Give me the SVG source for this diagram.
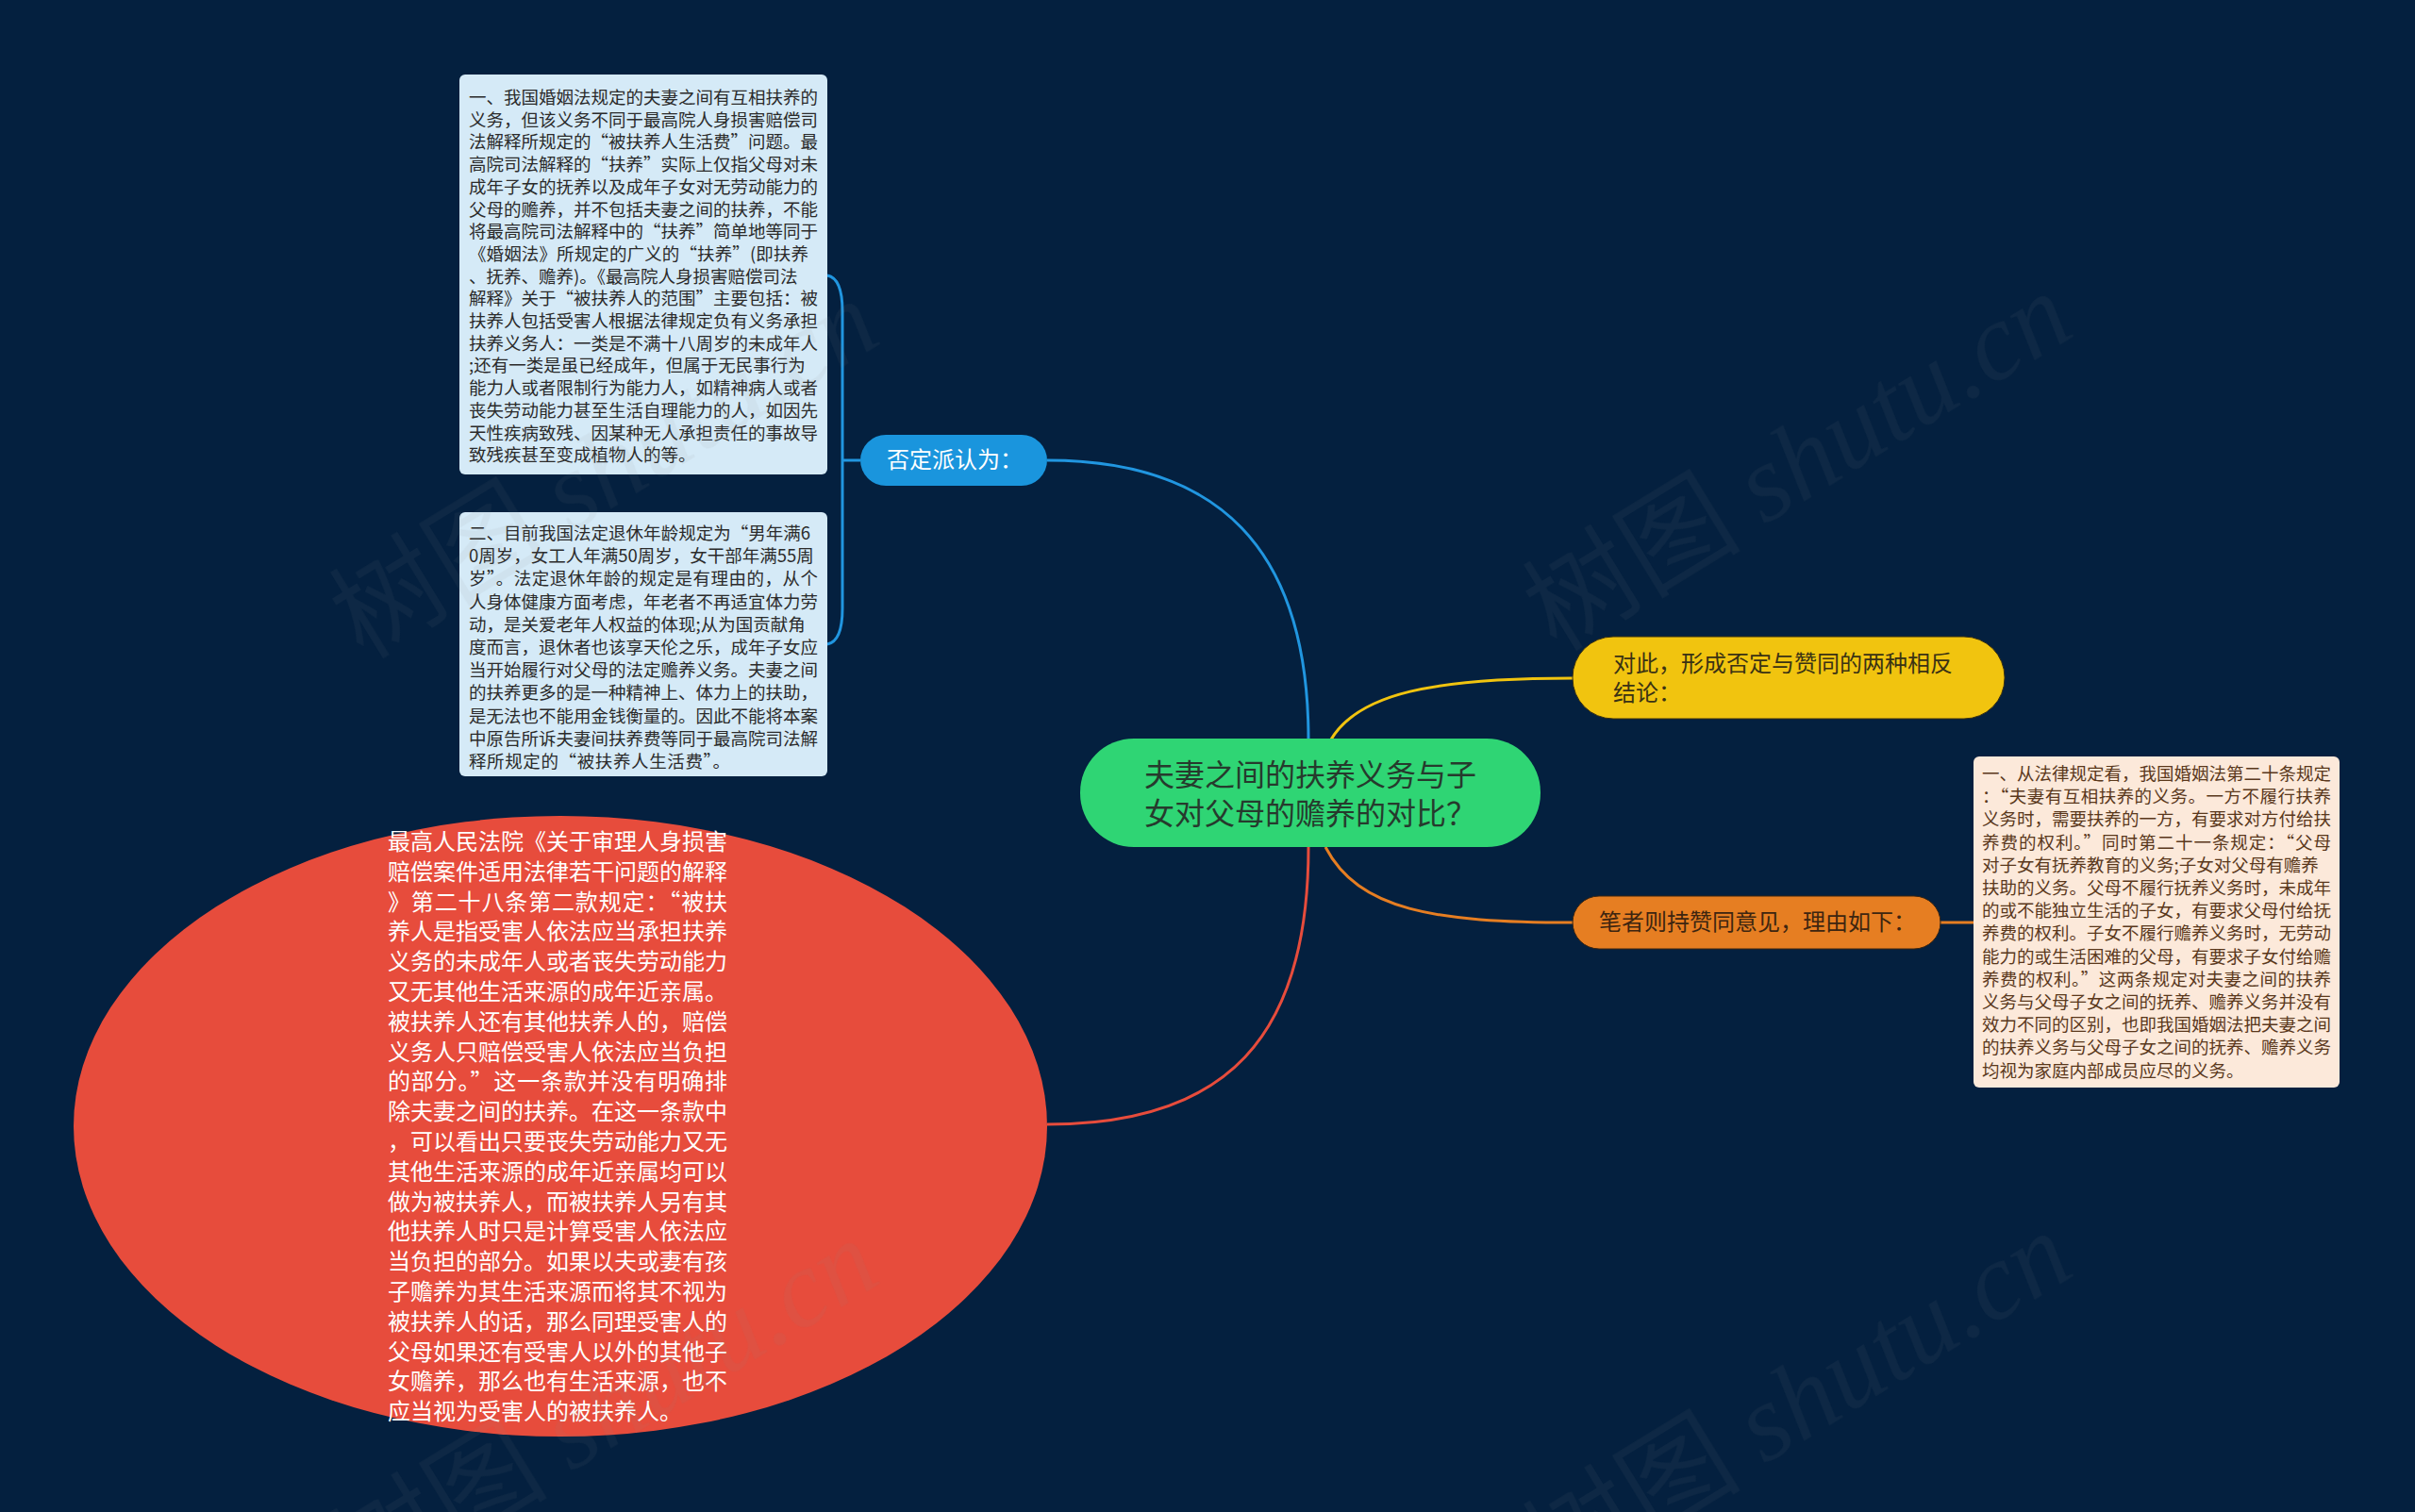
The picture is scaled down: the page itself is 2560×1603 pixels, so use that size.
<svg xmlns="http://www.w3.org/2000/svg" width="2560" height="1603" viewBox="0 0 2560 1603">
<style>
text{font-family:"Noto Sans CJK SC","Noto Sans",sans-serif}
.conn{fill:none;stroke-width:3}
.box1 text{font-size:18.5px;fill:#2b2b2b}
.box3 text{font-size:18.5px;fill:#5a381c}
.red text{font-size:24px;fill:#ffffff}
.pill{font-size:24px}
.wm{font-size:116px;fill:#8a8a8a;opacity:0.08}
</style>
<rect x="0" y="0" width="2560" height="1603" fill="#04203f"/>
<g id="connectors">
<path class="conn" stroke="#2196e0" d="M1110 488 C1290 488 1387 580 1387 784"/>
<path class="conn" stroke="#2196e0" d="M877 292 Q893 295 893 330 L893 645 Q893 680 877 683 M893 488 L912 488"/>
<path class="conn" stroke="#f1c40f" d="M1411 784 C1440 735 1520 719 1667 719"/>
<path class="conn" stroke="#e74c3c" d="M1387 898 C1387 1100 1300 1192 1110 1192"/>
<path class="conn" stroke="#e67e22" d="M1405 898 C1440 965 1520 978 1667 978"/>
<path class="conn" stroke="#e67e22" d="M2057 978 L2092 978"/>
</g>
<g id="box1" class="box1">
<rect x="487" y="79" width="390" height="424" rx="6" fill="#d5eaf7"/>
<text x="497" y="110">一、我国婚姻法规定的夫妻之间有互相扶养的</text>
<text x="497" y="133.7">义务，但该义务不同于最高院人身损害赔偿司</text>
<text x="497" y="157.4" textLength="370" lengthAdjust="spacing">法解释所规定的“被扶养人生活费”问题。最</text>
<text x="497" y="181.1" textLength="370" lengthAdjust="spacing">高院司法解释的“扶养”实际上仅指父母对未</text>
<text x="497" y="204.8">成年子女的抚养以及成年子女对无劳动能力的</text>
<text x="497" y="228.5">父母的赡养，并不包括夫妻之间的扶养，不能</text>
<text x="497" y="252.2" textLength="370" lengthAdjust="spacing">将最高院司法解释中的“扶养”简单地等同于</text>
<text x="497" y="275.9" textLength="360" lengthAdjust="spacing">《婚姻法》所规定的广义的“扶养”(即扶养</text>
<text x="497" y="299.6">、抚养、赡养)。《最高院人身损害赔偿司法</text>
<text x="497" y="323.3" textLength="370" lengthAdjust="spacing">解释》关于“被扶养人的范围”主要包括：被</text>
<text x="497" y="347">扶养人包括受害人根据法律规定负有义务承担</text>
<text x="497" y="370.7">扶养义务人：一类是不满十八周岁的未成年人</text>
<text x="497" y="394.4">;还有一类是虽已经成年，但属于无民事行为</text>
<text x="497" y="418.1">能力人或者限制行为能力人，如精神病人或者</text>
<text x="497" y="441.8">丧失劳动能力甚至生活自理能力的人，如因先</text>
<text x="497" y="465.5">天性疾病致残、因某种无人承担责任的事故导</text>
<text x="497" y="489.2">致残疾甚至变成植物人的等。</text>
</g>
<g id="box2" class="box1">
<rect x="487" y="543" width="390" height="280" rx="6" fill="#d5eaf7"/>
<text x="497" y="572" textLength="362" lengthAdjust="spacing">二、目前我国法定退休年龄规定为“男年满6</text>
<text x="497" y="596.2">0周岁，女工人年满50周岁，女干部年满55周</text>
<text x="497" y="620.4" textLength="370" lengthAdjust="spacing">岁”。法定退休年龄的规定是有理由的，从个</text>
<text x="497" y="644.6">人身体健康方面考虑，年老者不再适宜体力劳</text>
<text x="497" y="668.8">动，是关爱老年人权益的体现;从为国贡献角</text>
<text x="497" y="693">度而言，退休者也该享天伦之乐，成年子女应</text>
<text x="497" y="717.2">当开始履行对父母的法定赡养义务。夫妻之间</text>
<text x="497" y="741.4">的扶养更多的是一种精神上、体力上的扶助，</text>
<text x="497" y="765.6">是无法也不能用金钱衡量的。因此不能将本案</text>
<text x="497" y="789.8">中原告所诉夫妻间扶养费等同于最高院司法解</text>
<text x="497" y="814" textLength="277" lengthAdjust="spacing">释所规定的“被扶养人生活费”。</text>
</g>
<g id="neg" class="pill">
<rect x="912" y="461" width="198" height="54" rx="27" fill="#1a95dd"/>
<text x="940" y="496" fill="#ffffff">否定派认为：</text>
</g>
<g id="center">
<rect x="1145" y="783" width="488" height="115" rx="57" fill="#2fd574"/>
<text x="1213" y="833" font-size="32" fill="#263a2d">夫妻之间的扶养义务与子</text>
<text x="1213" y="874" font-size="32" fill="#263a2d">女对父母的赡养的对比？</text>
</g>
<g id="yellow" class="pill">
<rect x="1667" y="675" width="458" height="87" rx="43" fill="#f1c40f" stroke="#3a3010" stroke-width="1"/>
<text x="1710" y="712" fill="#3a3214">对此，形成否定与赞同的两种相反</text>
<text x="1710" y="743" fill="#3a3214">结论：</text>
</g>
<g id="orange" class="pill">
<rect x="1667" y="950" width="390" height="56" rx="28" fill="#e67e22" stroke="#3a2410" stroke-width="1"/>
<text x="1695" y="986" fill="#3d2510">笔者则持赞同意见，理由如下：</text>
</g>
<g id="box3" class="box3">
<rect x="2092" y="802" width="388" height="351" rx="6" fill="#fce9da"/>
<text x="2101" y="827">一、从法律规定看，我国婚姻法第二十条规定</text>
<text x="2101" y="851.2" textLength="370" lengthAdjust="spacing">：“夫妻有互相扶养的义务。一方不履行扶养</text>
<text x="2101" y="875.4">义务时，需要扶养的一方，有要求对方付给扶</text>
<text x="2101" y="899.6" textLength="370" lengthAdjust="spacing">养费的权利。”同时第二十一条规定：“父母</text>
<text x="2101" y="923.8">对子女有抚养教育的义务;子女对父母有赡养</text>
<text x="2101" y="948">扶助的义务。父母不履行抚养义务时，未成年</text>
<text x="2101" y="972.2">的或不能独立生活的子女，有要求父母付给抚</text>
<text x="2101" y="996.4">养费的权利。子女不履行赡养义务时，无劳动</text>
<text x="2101" y="1020.6">能力的或生活困难的父母，有要求子女付给赡</text>
<text x="2101" y="1044.8" textLength="370" lengthAdjust="spacing">养费的权利。”这两条规定对夫妻之间的扶养</text>
<text x="2101" y="1069">义务与父母子女之间的抚养、赡养义务并没有</text>
<text x="2101" y="1093.2">效力不同的区别，也即我国婚姻法把夫妻之间</text>
<text x="2101" y="1117.4">的扶养义务与父母子女之间的抚养、赡养义务</text>
<text x="2101" y="1141.6">均视为家庭内部成员应尽的义务。</text>
</g>
<g id="red" class="red">
<ellipse cx="594" cy="1194" rx="516" ry="329" fill="#e74c3c"/>
<text x="411" y="901">最高人民法院《关于审理人身损害</text>
<text x="411" y="932.8">赔偿案件适用法律若干问题的解释</text>
<text x="411" y="964.6" textLength="360" lengthAdjust="spacing">》第二十八条第二款规定：“被扶</text>
<text x="411" y="996.4">养人是指受害人依法应当承担扶养</text>
<text x="411" y="1028.2">义务的未成年人或者丧失劳动能力</text>
<text x="411" y="1060">又无其他生活来源的成年近亲属。</text>
<text x="411" y="1091.8">被扶养人还有其他扶养人的，赔偿</text>
<text x="411" y="1123.6">义务人只赔偿受害人依法应当负担</text>
<text x="411" y="1155.4" textLength="360" lengthAdjust="spacing">的部分。”这一条款并没有明确排</text>
<text x="411" y="1187.2">除夫妻之间的扶养。在这一条款中</text>
<text x="411" y="1219">，可以看出只要丧失劳动能力又无</text>
<text x="411" y="1250.8">其他生活来源的成年近亲属均可以</text>
<text x="411" y="1282.6">做为被扶养人，而被扶养人另有其</text>
<text x="411" y="1314.4">他扶养人时只是计算受害人依法应</text>
<text x="411" y="1346.2">当负担的部分。如果以夫或妻有孩</text>
<text x="411" y="1378">子赡养为其生活来源而将其不视为</text>
<text x="411" y="1409.8">被扶养人的话，那么同理受害人的</text>
<text x="411" y="1441.6">父母如果还有受害人以外的其他子</text>
<text x="411" y="1473.4">女赡养，那么也有生活来源，也不</text>
<text x="411" y="1505.2">应当视为受害人的被扶养人。</text>
</g>
<g id="watermarks" class="wm">
<text transform="translate(385 700) rotate(-31.5)">树图 <tspan font-family="Liberation Serif" font-style="italic">shutu.cn</tspan></text>
<text transform="translate(1650 692) rotate(-31.5)">树图 <tspan font-family="Liberation Serif" font-style="italic">shutu.cn</tspan></text>
<text transform="translate(385 1696) rotate(-31.5)">树图 <tspan font-family="Liberation Serif" font-style="italic">shutu.cn</tspan></text>
<text transform="translate(1650 1688) rotate(-31.5)">树图 <tspan font-family="Liberation Serif" font-style="italic">shutu.cn</tspan></text>
</g>
</svg>
